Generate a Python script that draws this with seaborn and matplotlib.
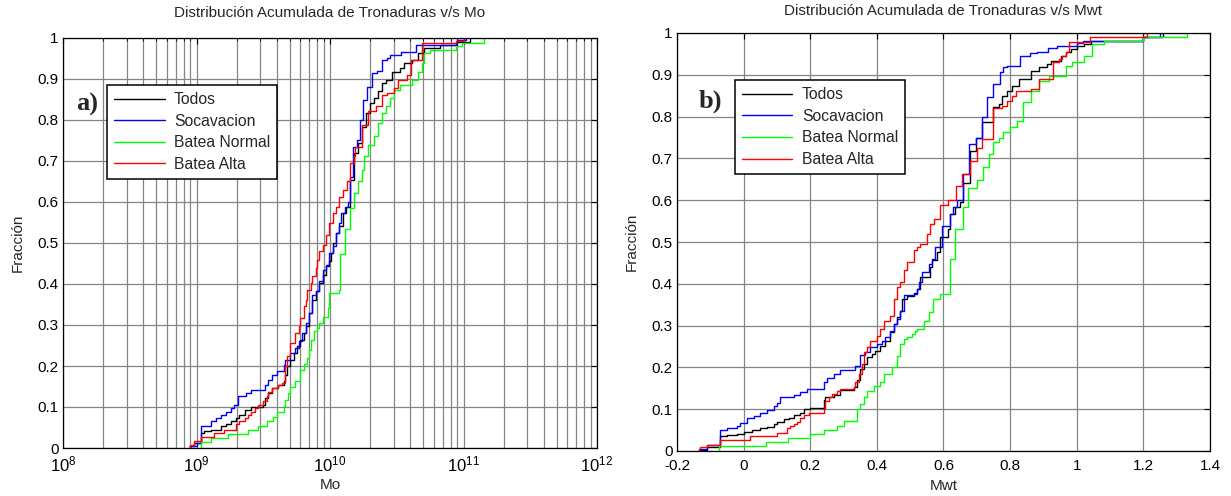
import numpy as np
import pandas as pd
import matplotlib
matplotlib.use("Agg")
import matplotlib.pyplot as plt
import seaborn as sns
from matplotlib.ticker import LogLocator, FixedLocator, FormatStrFormatter, NullFormatter

# ---------------- data ----------------
series = ["Todos", "Socavacion", "Batea Normal", "Batea Alta"]
colors = {"Todos": "#000000", "Socavacion": "#0000ff",
          "Batea Normal": "#00ff00", "Batea Alta": "#ff0000"}

# Panel a): log10(Mo) where each step occurs, and cumulative fraction after it
mo_log_todos = [8.954, 8.98, 9.03, 9.056, 9.107, 9.183, 9.221, 9.259, 9.297, 9.322, 9.36, 9.411, 9.5, 9.513,
                9.538, 9.563, 9.614, 9.652, 9.665, 9.678, 9.703, 9.728, 9.754, 9.779, 9.805, 9.817, 9.843,
                9.868, 9.893, 9.919, 9.944, 9.97, 9.995, 10.008, 10.02, 10.046, 10.071, 10.096, 10.122,
                10.147, 10.177, 10.207, 10.237, 10.267, 10.297, 10.327, 10.357, 10.387, 10.417, 10.462,
                10.523, 10.553, 10.613, 10.658, 10.703, 10.823, 10.943, 11.05]
mo_frac_todos = [0.004, 0.012, 0.037, 0.041, 0.045, 0.053, 0.059, 0.065, 0.073, 0.081, 0.093, 0.1, 0.106,
                 0.122, 0.134, 0.146, 0.154, 0.163, 0.179, 0.199, 0.215, 0.232, 0.248, 0.264, 0.28, 0.297,
                 0.329, 0.362, 0.382, 0.402, 0.423, 0.443, 0.455, 0.476, 0.5, 0.524, 0.541, 0.573, 0.589,
                 0.654, 0.719, 0.743, 0.784, 0.817, 0.841, 0.853, 0.87, 0.89, 0.898, 0.918, 0.927, 0.939,
                 0.947, 0.963, 0.976, 0.982, 0.99, 1.0]

mo_log_socav = [8.954, 9.0, 9.036, 9.107, 9.145, 9.183, 9.221, 9.259, 9.284, 9.31, 9.373, 9.411, 9.513,
                9.538, 9.563, 9.602, 9.652, 9.665, 9.703, 9.741, 9.766, 9.792, 9.817, 9.843, 9.868, 9.893,
                9.919, 9.944, 9.97, 9.995, 10.02, 10.046, 10.071, 10.084, 10.109, 10.135, 10.15, 10.173,
                10.2, 10.224, 10.249, 10.275, 10.313, 10.35, 10.389, 10.427, 10.453, 10.529, 10.644,
                10.949, 11.02]
mo_frac_socav = [0.004, 0.012, 0.053, 0.065, 0.073, 0.081, 0.089, 0.098, 0.106, 0.126, 0.134, 0.141, 0.154,
                 0.167, 0.179, 0.187, 0.202, 0.215, 0.232, 0.244, 0.26, 0.28, 0.305, 0.329, 0.374, 0.382,
                 0.407, 0.435, 0.447, 0.476, 0.492, 0.524, 0.549, 0.573, 0.589, 0.6, 0.66, 0.735, 0.75,
                 0.8, 0.849, 0.881, 0.914, 0.92, 0.946, 0.951, 0.959, 0.967, 0.983, 0.995, 1.0]

mo_log_normal = [9.03, 9.107, 9.234, 9.386, 9.462, 9.525, 9.576, 9.602, 9.652, 9.665, 9.685, 9.703, 9.741,
                 9.779, 9.805, 9.83, 9.84, 9.855, 9.881, 9.906, 9.919, 9.944, 9.982, 9.995, 10.07, 10.076,
                 10.109, 10.147, 10.177, 10.207, 10.237, 10.252, 10.282, 10.327, 10.357, 10.387, 10.417,
                 10.447, 10.477, 10.523, 10.613, 10.658, 10.688, 10.703, 10.748, 10.943, 10.988, 11.153]
mo_frac_normal = [0.014, 0.024, 0.033, 0.043, 0.053, 0.065, 0.076, 0.088, 0.102, 0.118, 0.134, 0.15, 0.163,
                  0.191, 0.205, 0.22, 0.24, 0.264, 0.285, 0.293, 0.305, 0.32, 0.341, 0.378, 0.386, 0.472,
                  0.533, 0.585, 0.621, 0.65, 0.678, 0.711, 0.739, 0.76, 0.792, 0.817, 0.833, 0.853, 0.874,
                  0.886, 0.898, 0.918, 0.939, 0.963, 0.971, 0.98, 0.988, 1.0]

mo_log_alta = [8.954, 8.98, 9.03, 9.132, 9.208, 9.297, 9.322, 9.36, 9.386, 9.411, 9.437, 9.462, 9.5, 9.525,
               9.538, 9.563, 9.614, 9.64, 9.665, 9.678, 9.703, 9.741, 9.766, 9.779, 9.805, 9.817, 9.83,
               9.855, 9.868, 9.893, 9.906, 9.919, 9.944, 9.97, 9.995, 10.02, 10.046, 10.07, 10.1, 10.13,
               10.147, 10.177, 10.19, 10.237, 10.282, 10.342, 10.387, 10.43, 10.477, 10.507, 10.58, 10.61,
               10.69, 10.943, 11.003]
mo_frac_alta = [0.008, 0.016, 0.028, 0.037, 0.045, 0.059, 0.065, 0.073, 0.081, 0.089, 0.098, 0.106, 0.114,
                0.126, 0.136, 0.146, 0.154, 0.159, 0.199, 0.224, 0.256, 0.28, 0.297, 0.317, 0.346, 0.362,
                0.386, 0.402, 0.419, 0.439, 0.459, 0.48, 0.496, 0.52, 0.549, 0.573, 0.589, 0.613, 0.629,
                0.65, 0.695, 0.711, 0.735, 0.788, 0.821, 0.833, 0.862, 0.866, 0.878, 0.898, 0.91, 0.947,
                0.988, 0.992, 1.0]

# Panel b): Mwt where each step occurs, and cumulative fraction after it
mwt_todos = [-0.135, -0.11, -0.07, -0.05, -0.02, 0.0, 0.025, 0.05, 0.07, 0.09, 0.10, 0.12, 0.135, 0.15,
             0.17, 0.18, 0.20, 0.24, 0.245, 0.27, 0.29, 0.33, 0.34, 0.35, 0.36, 0.37, 0.385, 0.395, 0.41,
             0.425, 0.44, 0.45, 0.46, 0.47, 0.475, 0.49, 0.51, 0.52, 0.53, 0.56, 0.565, 0.58, 0.59, 0.615,
             0.62, 0.635, 0.65, 0.66, 0.68, 0.697, 0.717, 0.75, 0.767, 0.777, 0.792, 0.807, 0.827, 0.862,
             0.887, 0.912, 0.922, 0.952, 0.967, 0.982, 1.0, 1.022, 1.042, 1.2, 1.26]
mwt_frac_todos = [0.003, 0.01, 0.035, 0.038, 0.04, 0.046, 0.05, 0.054, 0.058, 0.064, 0.07, 0.076, 0.079,
                  0.086, 0.091, 0.1, 0.104, 0.122, 0.13, 0.135, 0.146, 0.152, 0.17, 0.196, 0.208, 0.224,
                  0.232, 0.24, 0.252, 0.264, 0.284, 0.304, 0.32, 0.336, 0.364, 0.372, 0.378, 0.388, 0.416,
                  0.44, 0.456, 0.476, 0.512, 0.532, 0.568, 0.584, 0.596, 0.642, 0.718, 0.75, 0.787, 0.823,
                  0.83, 0.85, 0.862, 0.874, 0.89, 0.91, 0.918, 0.926, 0.934, 0.946, 0.954, 0.962, 0.968,
                  0.974, 0.98, 0.99, 1.0]

mwt_socav = [-0.135, -0.11, -0.07, -0.05, -0.02, -0.01, 0.01, 0.03, 0.05, 0.07, 0.09, 0.10, 0.11, 0.15,
             0.17, 0.19, 0.24, 0.25, 0.27, 0.29, 0.335, 0.35, 0.365, 0.38, 0.40, 0.415, 0.425, 0.44, 0.45,
             0.46, 0.47, 0.48, 0.51, 0.52, 0.525, 0.535, 0.555, 0.565, 0.575, 0.595, 0.62, 0.63, 0.64,
             0.66, 0.677, 0.697, 0.717, 0.73, 0.75, 0.77, 0.78, 0.79, 0.83, 0.86, 0.88, 0.915, 0.94, 1.0,
             1.02, 1.2, 1.25]
mwt_frac_socav = [0.005, 0.014, 0.05, 0.055, 0.06, 0.067, 0.078, 0.084, 0.09, 0.098, 0.107, 0.115, 0.128,
                  0.134, 0.142, 0.148, 0.164, 0.175, 0.185, 0.194, 0.204, 0.23, 0.238, 0.248, 0.256, 0.263,
                  0.272, 0.288, 0.304, 0.316, 0.336, 0.374, 0.376, 0.388, 0.404, 0.428, 0.448, 0.46, 0.488,
                  0.538, 0.568, 0.584, 0.6, 0.662, 0.734, 0.75, 0.8, 0.846, 0.878, 0.906, 0.918, 0.922,
                  0.944, 0.951, 0.955, 0.964, 0.97, 0.975, 0.98, 0.99, 1.0]

mwt_normal = [-0.075, 0.068, 0.133, 0.20, 0.24, 0.28, 0.30, 0.34, 0.35, 0.36, 0.37, 0.39, 0.41, 0.42, 0.445,
              0.46, 0.47, 0.48, 0.49, 0.505, 0.515, 0.52, 0.54, 0.555, 0.568, 0.59, 0.62, 0.635, 0.66,
              0.675, 0.70, 0.72, 0.738, 0.75, 0.767, 0.779, 0.80, 0.821, 0.839, 0.862, 0.886, 0.916, 0.969,
              0.987, 1.022, 1.046, 1.081, 1.2, 1.33]
mwt_frac_normal = [0.013, 0.022, 0.03, 0.04, 0.05, 0.06, 0.072, 0.1, 0.112, 0.128, 0.144, 0.156, 0.164,
                   0.184, 0.2, 0.228, 0.256, 0.268, 0.272, 0.28, 0.288, 0.292, 0.312, 0.332, 0.364, 0.376,
                   0.46, 0.532, 0.584, 0.628, 0.648, 0.68, 0.711, 0.74, 0.75, 0.763, 0.775, 0.79, 0.835,
                   0.862, 0.886, 0.898, 0.922, 0.93, 0.946, 0.974, 0.982, 0.99, 1.0]

mwt_alta = [-0.135, -0.13, -0.11, -0.07, 0.02, 0.10, 0.13, 0.14, 0.15, 0.16, 0.17, 0.18, 0.195, 0.24,
            0.245, 0.255, 0.265, 0.28, 0.29, 0.33, 0.335, 0.345, 0.355, 0.36, 0.37, 0.38, 0.40, 0.41, 0.42,
            0.44, 0.45, 0.46, 0.47, 0.48, 0.49, 0.51, 0.52, 0.53, 0.55, 0.56, 0.57, 0.59, 0.615, 0.637,
            0.655, 0.68, 0.70, 0.717, 0.75, 0.777, 0.79, 0.807, 0.817, 0.862, 0.887, 0.93, 0.947, 0.957,
            0.967, 0.977, 1.04, 1.21]
mwt_frac_alta = [0.004, 0.01, 0.014, 0.027, 0.036, 0.042, 0.054, 0.06, 0.064, 0.07, 0.078, 0.085, 0.09, 0.1,
                 0.12, 0.13, 0.137, 0.144, 0.148, 0.152, 0.164, 0.184, 0.208, 0.236, 0.248, 0.264, 0.276,
                 0.292, 0.312, 0.324, 0.364, 0.392, 0.404, 0.432, 0.452, 0.48, 0.488, 0.496, 0.52, 0.544,
                 0.554, 0.588, 0.6, 0.634, 0.662, 0.694, 0.726, 0.746, 0.82, 0.826, 0.838, 0.85, 0.862,
                 0.866, 0.89, 0.93, 0.938, 0.946, 0.954, 0.978, 0.99, 1.0]

frac_ticks = [0, 0.1, 0.2, 0.3, 0.4, 0.5, 0.6, 0.7, 0.8, 0.9, 1]
mwt_ticks = [-0.2, 0, 0.2, 0.4, 0.6, 0.8, 1.0, 1.2, 1.4]
mo_ticks = [1e8, 1e9, 1e10, 1e11, 1e12]
mo_tick_labels = [r"$10^{8}$", r"$10^{9}$", r"$10^{10}$", r"$10^{11}$", r"$10^{12}$"]

panel_a = {"Todos": (mo_log_todos, mo_frac_todos), "Socavacion": (mo_log_socav, mo_frac_socav),
           "Batea Normal": (mo_log_normal, mo_frac_normal), "Batea Alta": (mo_log_alta, mo_frac_alta)}
panel_b = {"Todos": (mwt_todos, mwt_frac_todos), "Socavacion": (mwt_socav, mwt_frac_socav),
           "Batea Normal": (mwt_normal, mwt_frac_normal), "Batea Alta": (mwt_alta, mwt_frac_alta)}


def long_frame(panel, log10_values=False):
    parts = []
    for s in series:
        xs, ys = panel[s]
        assert len(xs) == len(ys), s
        xs = np.asarray(xs, float)
        if log10_values:
            xs = 10.0 ** xs
        # empirical CDF starts at 0 just before its first step
        xs = np.r_[xs[0], xs]
        ys = np.r_[0.0, np.asarray(ys, float)]
        parts.append(pd.DataFrame({"x": xs, "y": ys, "serie": s}))
    return pd.concat(parts, ignore_index=True)


df_a = long_frame(panel_a, log10_values=True)
df_b = long_frame(panel_b)

# ---------------- style ----------------
sns.set_theme(style="white")
plt.rcParams["font.family"] = ["Liberation Sans", "DejaVu Sans"]
plt.rcParams["axes.unicode_minus"] = False
plt.rcParams["mathtext.default"] = "regular"

W, H = 1231, 496
fig = plt.figure(figsize=(W / 100, H / 100), dpi=100)
fig.patch.set_facecolor("white")

ax_a = fig.add_axes([63 / W, 1 - 448 / H, 534 / W, 410 / H])
ax_b = fig.add_axes([677 / W, 1 - 451 / H, 533 / W, 418 / H])

grid_kw = dict(color="#858585", linewidth=0.9, linestyle="-")
TICK_FS = 11


def style_axes(ax):
    ax.set_facecolor("white")
    for sp in ax.spines.values():
        sp.set_color("black")
        sp.set_linewidth(0.9)
        sp.set_visible(True)
    ax.tick_params(which="both", direction="in", top=True, right=True, colors="black",
                   labelsize=TICK_FS)
    ax.tick_params(axis="y", pad=3)
    ax.tick_params(axis="x", pad=6)
    ax.tick_params(which="major", length=4, width=0.8)
    ax.tick_params(which="minor", length=2.5, width=0.6)
    ax.set_ylim(0, 1)
    ax.yaxis.set_major_locator(FixedLocator(frac_ticks))
    ax.yaxis.set_major_formatter(FormatStrFormatter("%g"))
    ax.set_axisbelow(True)


# ---- panel a (log Mo) ----
ax = ax_a
ax.set_xscale("log")
sns.lineplot(data=df_a, x="x", y="y", hue="serie", hue_order=series, palette=colors,
             units="serie", estimator=None, sort=False, drawstyle="steps-post",
             linewidth=1.0, legend=False, ax=ax)
style_axes(ax)
ax.set_xlim(1e8, 1e12)
ax.xaxis.set_major_locator(FixedLocator(mo_ticks))
ax.set_xticklabels(mo_tick_labels)
ax.xaxis.set_minor_locator(LogLocator(base=10, subs=np.arange(2, 10)))
ax.xaxis.set_minor_formatter(NullFormatter())
ax.grid(True, which="major", axis="both", **grid_kw)
ax.grid(True, which="minor", axis="x", **grid_kw)
ax.tick_params(axis="x", which="major", labelsize=12, pad=5)
ax.set_title("Distribución Acumulada de Tronaduras v/s Mo", fontsize=11, pad=15)
ax.set_xlabel("Mo", fontsize=11, labelpad=2)
ax.set_ylabel("Fracción", fontsize=11, labelpad=9)

# ---- panel b (Mwt) ----
ax = ax_b
sns.lineplot(data=df_b, x="x", y="y", hue="serie", hue_order=series, palette=colors,
             units="serie", estimator=None, sort=False, drawstyle="steps-post",
             linewidth=1.0, legend=False, ax=ax)
style_axes(ax)
ax.set_xlim(-0.2, 1.4)
ax.xaxis.set_major_locator(FixedLocator(mwt_ticks))
ax.xaxis.set_major_formatter(FormatStrFormatter("%g"))
ax.grid(True, which="major", axis="both", **grid_kw)
ax.set_title("Distribución Acumulada de Tronaduras v/s Mwt", fontsize=11, pad=13)
ax.set_xlabel("Mwt", fontsize=11, labelpad=4)
ax.set_ylabel("Fracción", fontsize=11, labelpad=9)

# ---- legends and panel letters ----
for ax, anchor, letter, lpos in [(ax_a, (0.083, 0.885), "a)", (0.045, 0.838)),
                                 (ax_b, (0.109, 0.887), "b)", (0.062, 0.836))]:
    handles = [plt.Line2D([], [], color=colors[s], lw=1.0) for s in series]
    leg = ax.legend(handles, series, loc="upper left", bbox_to_anchor=anchor, frameon=True,
                    fancybox=False, shadow=False, fontsize=11.3, handlelength=3.2,
                    handletextpad=0.6, borderpad=0.45, labelspacing=0.42, borderaxespad=0)
    leg.get_frame().set_edgecolor("black")
    leg.get_frame().set_linewidth(1.1)
    leg.get_frame().set_facecolor("white")
    leg.get_frame().set_alpha(1)
    ax.text(lpos[0], lpos[1], letter, transform=ax.transAxes, ha="center", va="center",
            fontsize=19, fontweight="bold", family=["Liberation Serif", "DejaVu Serif"], zorder=5)

fig.savefig("out.png", dpi=100, facecolor="white")
